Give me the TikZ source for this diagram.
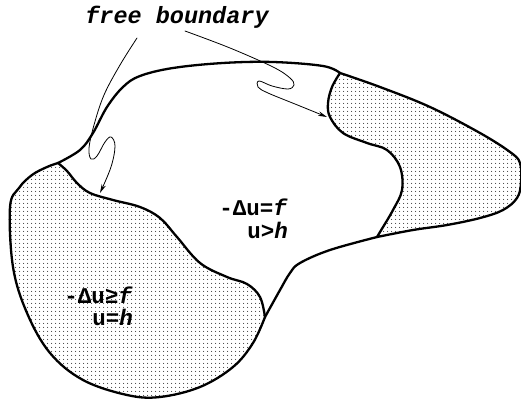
\documentclass[tikz,border=0pt]{standalone}
\usepackage{fontspec}
\newfontfamily\cour{Liberation Mono}
\usetikzlibrary{patterns.meta,arrows.meta}
\begin{document}
\begin{tikzpicture}[x=1pt,y=-1pt, line join=round, line cap=round,
  bnd/.style={line width=2.3pt},
  dotfill/.style={pattern={Dots[distance=4pt,radius=0.65pt]}, pattern color=black!75},
  lbl/.style={font=\cour\bfseries\fontsize{22.5}{26}\selectfont, inner sep=0pt, align=right},
  title/.style={font=\cour\bfseries\itshape\fontsize{23.5}{27}\selectfont, inner sep=0pt},
  ptr/.style={line width=0.8pt, -{Stealth[length=9pt,width=4.5pt]}}]
\useasboundingbox (0,0) rectangle (521,403);
% junctions
\coordinate (J1) at (58,163);
\coordinate (J2) at (340,73);
\coordinate (J3) at (377,237);
\coordinate (J4) at (265,317);
% shaded regions
\fill[dotfill] plot[smooth, tension=0.6] coordinates {(58,163) (67,171) (77,183) (90,193) (113,200) (140,207) (160,218) (177,237) (200,263) (227,277) (247,284) (260,297) (265,317)}
  -- plot[smooth, tension=0.6] coordinates {(265,317) (253,343) (233,367) (200,387) (160,397) (127,395) (83,380) (50,353) (27,313) (13,267) (10,207) (19,188) (32,175) (47,167) (58,163)} -- cycle;
\fill[dotfill] plot[smooth, tension=0.6] coordinates {(340,73) (380,87) (430,107) (480,133) (510,152) (520,163) (521,183) (517,198) (503,210) (480,218) (447,225) (413,230) (377,237)}
  -- plot[smooth, tension=0.6] coordinates {(377,237) (380,232) (393,210) (402,190) (400,167) (387,150) (367,143) (343,133) (330,117) (328,103) (332,87) (340,73)} -- cycle;
% outer boundary
\draw[bnd] plot[smooth, tension=0.6] coordinates {(58,163) (80,150) (93,133) (107,107) (123,87) (140,76) (173,68) (223,63) (273,62) (323,66) (340,73)};
\draw[bnd] plot[smooth, tension=0.6] coordinates {(340,73) (380,87) (430,107) (480,133) (510,152) (520,163) (521,183) (517,198) (503,210) (480,218) (447,225) (413,230) (377,237)};
\draw[bnd] plot[smooth, tension=0.6] coordinates {(377,237) (330,250) (300,263) (290,273) (280,290) (265,317)};
\draw[bnd] plot[smooth, tension=0.6] coordinates {(265,317) (253,343) (233,367) (200,387) (160,397) (127,395) (83,380) (50,353) (27,313) (13,267) (10,207) (19,188) (32,175) (47,167) (58,163)};
% free boundaries
\draw[bnd] plot[smooth, tension=0.6] coordinates {(58,163) (67,171) (77,183) (90,193) (113,200) (140,207) (160,218) (177,237) (200,263) (227,277) (247,284) (260,297) (265,317)};
\draw[bnd] plot[smooth, tension=0.6] coordinates {(340,73) (332,87) (328,103) (330,117) (343,133) (367,143) (387,150) (400,167) (402,190) (393,210) (380,232) (377,237)};
% labels
\node[title] (fb) at (177,17) {free boundary};
\node[lbl, anchor=east] (l1) at (288,207) {-Δu=\textit{f}};
\node[lbl, anchor=east] (l2) at (288,230) {u>\textit{h}};
\node[lbl, anchor=east] (l3) at (133,295) {-Δu≥\textit{f}};
\node[lbl, anchor=east] (l4) at (133,317) {u=\textit{h}};
% pointers
\coordinate (a1s) at (137,38);
\coordinate (a1e) at (100,193);
\coordinate (a2s) at (185,31);
\coordinate (a2e) at (327,117);
\draw[ptr] plot[smooth, tension=0.6] coordinates {(a1s) (120,65) (104,95) (94,125) (89,148) (91,159) (97,156) (105,142) (111,137) (115,146) (111,167) (a1e)};
\draw[ptr] plot[smooth, tension=0.6] coordinates {(a2s) (230,48) (273,67) (290,78) (294,85) (288,89) (272,86) (259,81) (258,87) (268,93) (295,104) (a2e)};
\end{tikzpicture}
\end{document}
